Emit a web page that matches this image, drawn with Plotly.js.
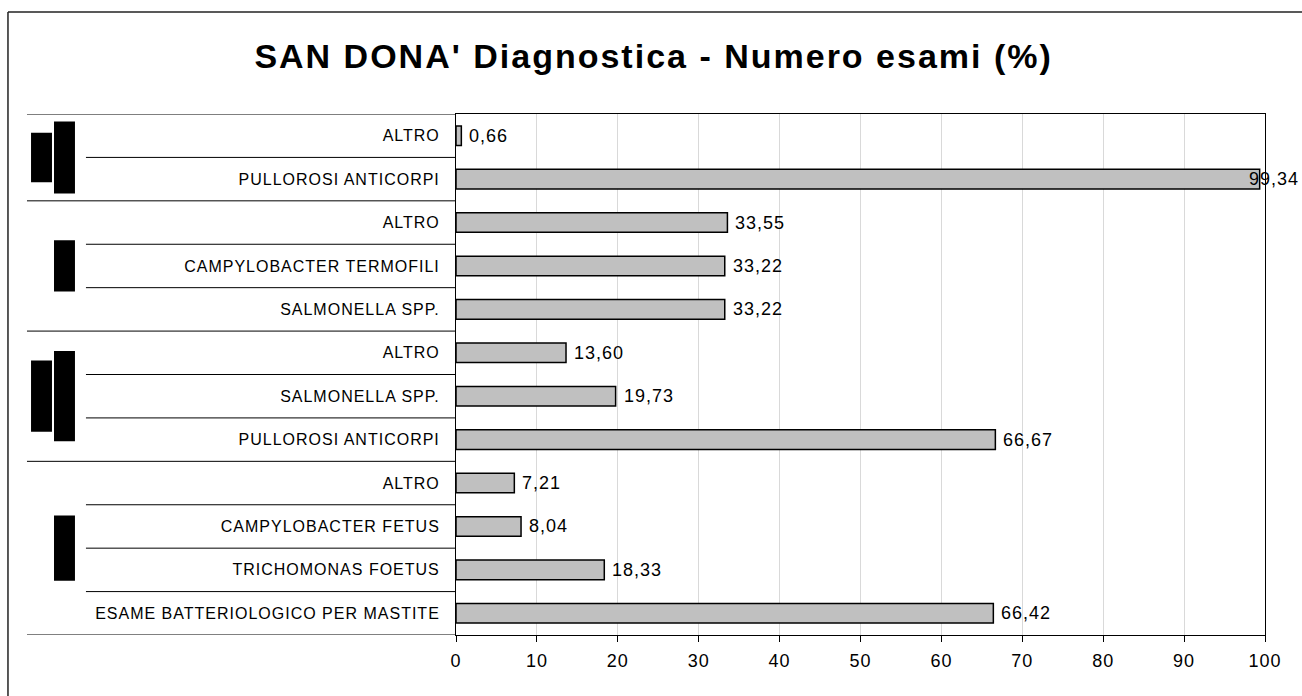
<!DOCTYPE html>
<html>
<head>
<meta charset="utf-8">
<script src="https://cdn.plot.ly/plotly-3.0.1.min.js"></script>
<style>
  html, body { margin: 0; padding: 0; background: #fff; }
  #chart { width: 1302px; height: 696px; }
  svg text { letter-spacing: 1px; }
  .gtitle { letter-spacing: 2px; }
</style>
</head>
<body>
<div id="chart"></div>
<script>
// ── Data (top to bottom) ──────────────────────────────────────
const CATEGORIES = [
  "ALTRO",
  "PULLOROSI ANTICORPI",
  "ALTRO",
  "CAMPYLOBACTER TERMOFILI",
  "SALMONELLA SPP.",
  "ALTRO",
  "SALMONELLA SPP.",
  "PULLOROSI ANTICORPI",
  "ALTRO",
  "CAMPYLOBACTER FETUS",
  "TRICHOMONAS FOETUS",
  "ESAME BATTERIOLOGICO PER MASTITE",
];
const PERCENT = [0.66, 99.34, 33.55, 33.22, 33.22, 13.60, 19.73, 66.67, 7.21, 8.04, 18.33, 66.42];
const GROUP_SIZES = [2, 3, 3, 4];
const X_TICKS = [0, 10, 20, 30, 40, 50, 60, 70, 80, 90, 100];

// group label placeholders (drawn as solid blocks), half-heights in rows
const GROUP_BLOCKS = [
  { outer: 0.57, inner: 0.83 },
  { inner: 0.59 },
  { outer: 0.82, inner: 1.04 },
  { inner: 0.75 },
];

const FONT = "Liberation Sans, Arial, sans-serif";
const rows = CATEGORIES.map((_, i) => i);

// ── Left-side table lines and blocks ──────────────────────────
const shapes = [];
const GROUP_X0 = -0.5303, ROW_X0 = -0.4574;
const OUTER_COL = [-0.5253, -0.4994], INNER_COL = [-0.4969, -0.4710];
const LINE = { color: "#000", width: 1 };

let start = 0;
shapes.push({ type: "line", xref: "paper", yref: "y", x0: GROUP_X0, x1: 0, y0: -0.5, y1: -0.5, line: LINE });
GROUP_SIZES.forEach((n, g) => {
  for (let k = 1; k < n; k++) {
    const yb = start + k - 0.5;
    shapes.push({ type: "line", xref: "paper", yref: "y", x0: ROW_X0, x1: 0, y0: yb, y1: yb, line: LINE });
  }
  const end = start + n - 0.5;
  shapes.push({ type: "line", xref: "paper", yref: "y", x0: GROUP_X0, x1: 0, y0: end, y1: end, line: LINE });

  const mid = start + (n - 1) / 2;
  const b = GROUP_BLOCKS[g];
  if (b.outer) {
    shapes.push({ type: "rect", xref: "paper", yref: "y", x0: OUTER_COL[0], x1: OUTER_COL[1],
                  y0: mid - b.outer, y1: mid + b.outer, fillcolor: "#000", line: { width: 0 } });
  }
  shapes.push({ type: "rect", xref: "paper", yref: "y", x0: INNER_COL[0], x1: INNER_COL[1],
                y0: mid - b.inner, y1: mid + b.inner, fillcolor: "#000", line: { width: 0 } });
  start += n;
});

// outer frame (only left and top edges are inside the picture)
const FRAME = { color: "#222", width: 1.5 };
shapes.push({ type: "line", xref: "paper", yref: "paper", x0: -0.5538, x1: -0.5538, y0: -0.3, y1: 1.1958, line: FRAME });
shapes.push({ type: "line", xref: "paper", yref: "paper", x0: -0.5538, x1: 1.2, y0: 1.1958, y1: 1.1958, line: FRAME });

// ── Value labels ──────────────────────────────────────────────
const annotations = PERCENT.map((v, i) => ({
  x: v, y: i, xref: "x", yref: "y",
  text: v.toFixed(2).replace(".", ","),
  showarrow: false,
  xanchor: "left",
  yanchor: "middle",
  xshift: v > 95 ? -13 : 6,
  font: { family: FONT, size: 18, color: "#000" },
}));

// ── Chart ─────────────────────────────────────────────────────
Plotly.newPlot("chart", [
  {
    type: "bar",
    orientation: "h",
    x: PERCENT,
    y: rows,
    width: 0.45,
    marker: { color: "#c0c0c0", line: { color: "#000", width: 1.5 } },
    hoverinfo: "skip",
  },
], {
  width: 1302,
  height: 696,
  separators: ",.",
  paper_bgcolor: "#fff",
  plot_bgcolor: "#fff",
  margin: { l: 456, r: 37, t: 114, b: 61, pad: 0 },
  showlegend: false,
  title: {
    text: "<b>SAN DONA' Diagnostica - Numero esami (%)</b>",
    font: { family: FONT, size: 34, color: "#000" },
    x: 0.502, xanchor: "center",
    y: 0.92, yref: "container", yanchor: "middle",
  },
  xaxis: {
    range: [0, 100],
    tickvals: X_TICKS,
    showgrid: true,
    gridcolor: "#d9d9d9",
    gridwidth: 1,
    zeroline: false,
    showline: true,
    linecolor: "#000",
    linewidth: 1,
    mirror: true,
    ticks: "outside",
    ticklen: 6,
    tickcolor: "#000",
    ticklabelstandoff: 3,
    tickfont: { family: FONT, size: 18, color: "#000" },
  },
  yaxis: {
    range: [CATEGORIES.length - 0.5, -0.5],
    tickvals: rows,
    ticktext: CATEGORIES,
    showgrid: false,
    zeroline: false,
    showline: true,
    linecolor: "#000",
    linewidth: 1,
    mirror: true,
    ticks: "",
    ticklabelstandoff: 12,
    tickfont: { family: FONT, size: 16, color: "#000" },
  },
  shapes: shapes,
  annotations: annotations,
}, { staticPlot: true });
</script>
</body>
</html>
